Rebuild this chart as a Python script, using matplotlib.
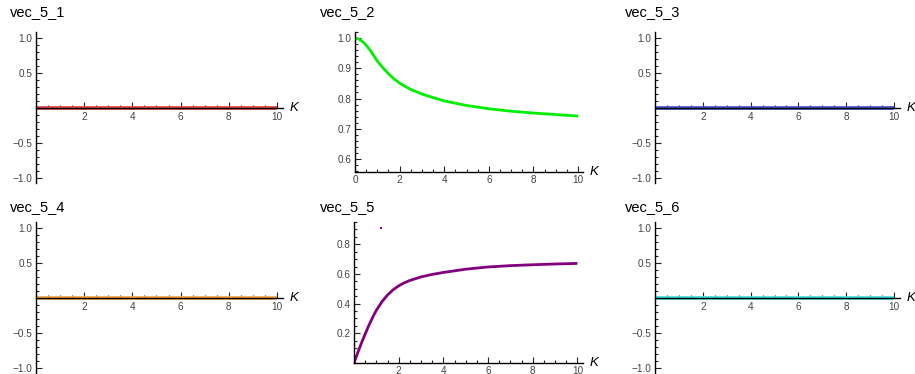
import matplotlib.pyplot as plt
from matplotlib.ticker import MultipleLocator, FixedLocator

plt.rcParams['font.family'] = ['Liberation Sans', 'DejaVu Sans']

# data
kappa = [0, 0.125, 0.25, 0.375, 0.5, 0.625, 0.75, 0.875, 1, 1.25, 1.5, 1.75, 2,
         2.25, 2.5, 3, 3.5, 4, 5, 6, 7, 8, 9, 10]
vec_5_2 = [1.0, 0.998, 0.993, 0.986, 0.976, 0.965, 0.952, 0.938, 0.924, 0.902,
           0.882, 0.865, 0.851, 0.840, 0.830, 0.815, 0.803, 0.792, 0.777, 0.766,
           0.758, 0.752, 0.747, 0.742]
vec_5_5 = [0.0, 0.052, 0.102, 0.15, 0.195, 0.24, 0.28, 0.32, 0.355, 0.413,
           0.458, 0.493, 0.52, 0.54, 0.556, 0.58, 0.597, 0.61, 0.632, 0.647,
           0.656, 0.662, 0.667, 0.671]
zeros = [0.0] * len(kappa)
stray_x = [1.2]
stray_y = [0.91]

titles = ['vec_5_1', 'vec_5_2', 'vec_5_3', 'vec_5_4', 'vec_5_5', 'vec_5_6']
colors = ['#dc4a44', '#00ee00', '#4656cc', '#f2a545', '#800080', '#45dcdc']
series = [zeros, vec_5_2, zeros, zeros, vec_5_5, zeros]

W, H = 915, 374
fig = plt.figure(figsize=(W / 100, H / 100), dpi=100)

# axes boxes in pixels: left, right, top, bottom
boxes = [(36, 283, 32, 183), (355, 583, 32, 172), (655, 900, 32, 183),
         (36, 283, 222, 373), (354, 583, 222, 363), (655, 900, 222, 373)]
title_pos = [(10, 12), (320, 12), (625, 12), (10, 207), (320, 207), (625, 207)]

for i in range(6):
    l, r, t, b = boxes[i]
    ax = fig.add_axes([l / W, 1 - b / H, (r - l) / W, (b - t) / H])
    ax.patch.set_alpha(0)
    for s in ['top', 'right']:
        ax.spines[s].set_visible(False)
    ax.spines['left'].set_linewidth(1.0)
    ax.spines['bottom'].set_linewidth(1.0)

    lw = 2.0 if i in (1, 4) else 2.7
    ax.plot(kappa, series[i], color=colors[i], lw=lw, solid_capstyle='butt',
            solid_joinstyle='round', zorder=2)

    ax.xaxis.set_minor_locator(MultipleLocator(0.5))
    if i == 1:
        ax.set_xlim(0, 10.22)
        ax.set_ylim(0.557, 1.02)
        ax.xaxis.set_major_locator(FixedLocator([0, 2, 4, 6, 8, 10]))
        ax.yaxis.set_major_locator(FixedLocator([0.6, 0.7, 0.8, 0.9, 1.0]))
        ax.yaxis.set_minor_locator(MultipleLocator(0.02))
        ax.set_yticklabels(['0.6', '0.7', '0.8', '0.9', '1.0'])
    elif i == 4:
        ax.set_xlim(0, 10.25)
        ax.set_ylim(0, 0.95)
        ax.spines['bottom'].set_position(('data', 0))
        ax.xaxis.set_major_locator(FixedLocator([2, 4, 6, 8, 10]))
        ax.yaxis.set_major_locator(FixedLocator([0.2, 0.4, 0.6, 0.8]))
        ax.yaxis.set_minor_locator(MultipleLocator(0.05))
        ax.plot(stray_x, stray_y, 's', color=colors[i], ms=1.5, mew=0)
    else:
        ax.set_xlim(0, 10.25)
        ax.set_ylim(-1.07, 1.086)
        ax.spines['bottom'].set_position(('data', 0))
        ax.xaxis.set_major_locator(FixedLocator([2, 4, 6, 8, 10]))
        ax.yaxis.set_major_locator(FixedLocator([-1.0, -0.5, 0.5, 1.0]))
        ax.yaxis.set_minor_locator(MultipleLocator(0.1))
        ax.set_yticklabels(['\u22121.0', '\u22120.5', '0.5', '1.0'])

    ax.tick_params(which='both', direction='in', labelsize=7.2, labelcolor='#444444',
                   color='#222222', width=0.8)
    ax.tick_params(which='major', length=4, pad=2.5)
    ax.tick_params(which='minor', length=2)

    yk = ax.get_ylim()[0] if i == 1 else 0
    ax.annotate('K', xy=(1, yk), xycoords=('axes fraction', 'data'),
                xytext=(5, 0), textcoords='offset points', va='center', ha='left',
                fontsize=9.5, style='italic', annotation_clip=False)

    tx, ty = title_pos[i]
    fig.text(tx / W, 1 - ty / H, titles[i], fontsize=10.5, ha='left', va='center')

fig.savefig('out.png', dpi=100)
